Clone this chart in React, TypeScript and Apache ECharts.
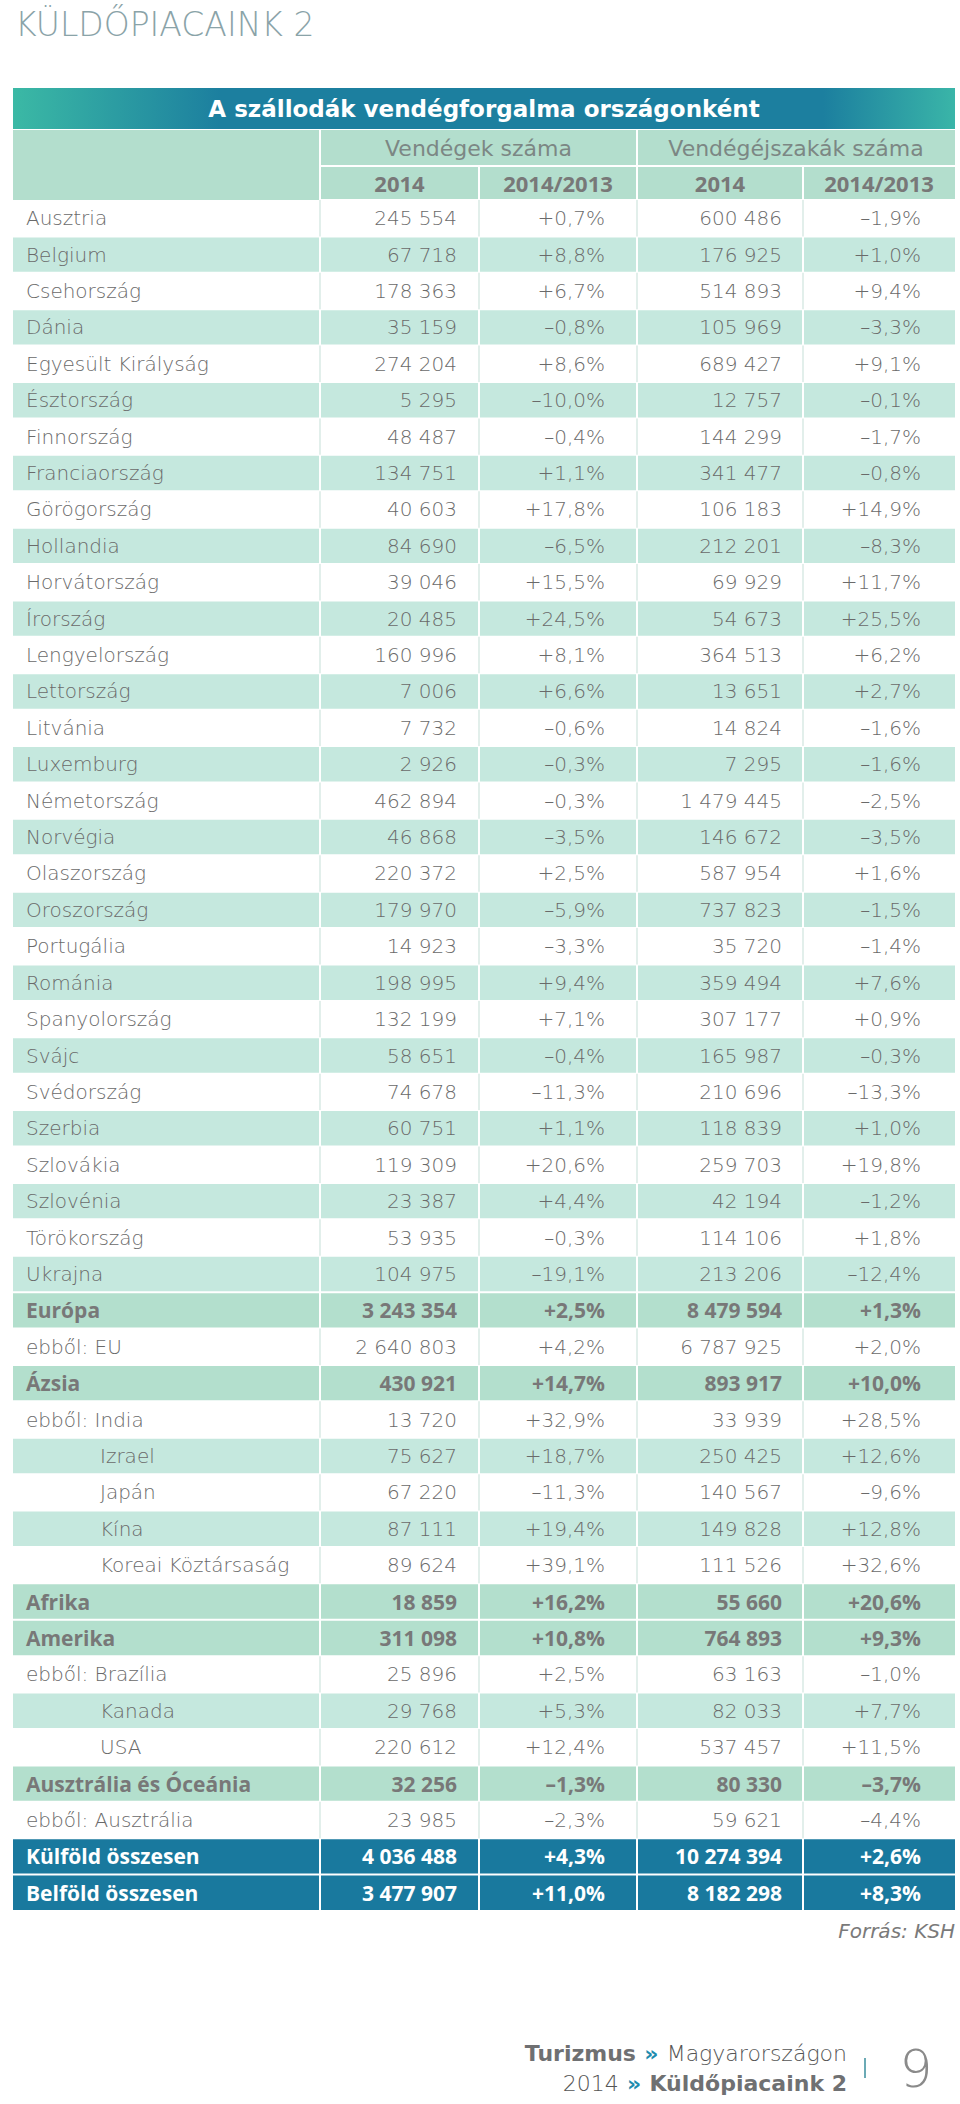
import React, { useEffect, useRef } from "react";
import * as echarts from "echarts";

// ---------- DATA ----------
const countries = [
  "Ausztria", "Belgium", "Csehország", "Dánia", "Egyesült Királyság", "Észtország",
  "Finnország", "Franciaország", "Görögország", "Hollandia", "Horvátország", "Írország",
  "Lengyelország", "Lettország", "Litvánia", "Luxemburg", "Németország", "Norvégia",
  "Olaszország", "Oroszország", "Portugália", "Románia", "Spanyolország", "Svájc",
  "Svédország", "Szerbia", "Szlovákia", "Szlovénia", "Törökország", "Ukrajna",
  "Európa", "ebből: EU", "Ázsia", "ebből: India", "Izrael", "Japán", "Kína",
  "Koreai Köztársaság", "Afrika", "Amerika", "ebből: Brazília", "Kanada", "USA",
  "Ausztrália és Óceánia", "ebből: Ausztrália", "Külföld összesen", "Belföld összesen",
];

const guests2014 = [
  245554, 67718, 178363, 35159, 274204, 5295,
  48487, 134751, 40603, 84690, 39046, 20485,
  160996, 7006, 7732, 2926, 462894, 46868,
  220372, 179970, 14923, 198995, 132199, 58651,
  74678, 60751, 119309, 23387, 53935, 104975,
  3243354, 2640803, 430921, 13720, 75627, 67220, 87111,
  89624, 18859, 311098, 25896, 29768, 220612,
  32256, 23985, 4036488, 3477907,
];

const guestsChange = [
  0.7, 8.8, 6.7, -0.8, 8.6, -10.0,
  -0.4, 1.1, 17.8, -6.5, 15.5, 24.5,
  8.1, 6.6, -0.6, -0.3, -0.3, -3.5,
  2.5, -5.9, -3.3, 9.4, 7.1, -0.4,
  -11.3, 1.1, 20.6, 4.4, -0.3, -19.1,
  2.5, 4.2, 14.7, 32.9, 18.7, -11.3, 19.4,
  39.1, 16.2, 10.8, 2.5, 5.3, 12.4,
  -1.3, -2.3, 4.3, 11.0,
];

const nights2014 = [
  600486, 176925, 514893, 105969, 689427, 12757,
  144299, 341477, 106183, 212201, 69929, 54673,
  364513, 13651, 14824, 7295, 1479445, 146672,
  587954, 737823, 35720, 359494, 307177, 165987,
  210696, 118839, 259703, 42194, 114106, 213206,
  8479594, 6787925, 893917, 33939, 250425, 140567, 149828,
  111526, 55660, 764893, 63163, 82033, 537457,
  80330, 59621, 10274394, 8182298,
];

const nightsChange = [
  -1.9, 1.0, 9.4, -3.3, 9.1, -0.1,
  -1.7, -0.8, 14.9, -8.3, 11.7, 25.5,
  6.2, 2.7, -1.6, -1.6, -2.5, -3.5,
  1.6, -1.5, -1.4, 7.6, 0.9, -0.3,
  -13.3, 1.0, 19.8, -1.2, 1.8, -12.4,
  1.3, 2.0, 10.0, 28.5, 12.6, -9.6, 12.8,
  32.6, 20.6, 9.3, -1.0, 7.7, 11.5,
  -3.7, -4.4, 2.6, 8.3,
];

const groupRows = ["Európa", "Ázsia", "Afrika", "Amerika", "Ausztrália és Óceánia"];
const totalRows = ["Külföld összesen", "Belföld összesen"];
const indentedRows = ["Izrael", "Japán", "Kína", "Koreai Köztársaság", "Kanada", "USA"];

const pageTitleParts = ["KÜLDŐPIACAIN", "K 2"];
const tableTitle = "A szállodák vendégforgalma országonként";
const groupHeaders = ["Vendégek száma", "Vendégéjszakák száma"];
const subHeaders = ["2014", "2014/2013", "2014", "2014/2013"];
const sourceText = "Forrás: KSH";

// ---------- STYLE / LAYOUT ----------
const COLS = [13, 320, 479, 637, 803, 955];
const TEXT_RIGHT = [457, 605, 782, 921];
const MINT = "#c5e8de";
const GROUP = "#b3dfcd";
const HEAD = "#b3decd";
const BLUE = "#19799e";
const TXT = "#6a6a6a";
const TXT_BOLD = "#787878";
const LIGHT_FONT = "'DejaVu Sans', Lato, sans-serif";
const BOLD_FONT = "'Open Sans', 'DejaVu Sans', sans-serif";

const fmtInt = (n: number) => String(n).replace(/\B(?=(\d{3})+(?!\d))/g, " ");
const fmtPct = (v: number) =>
  (v < 0 ? "–" : "+") + Math.abs(v).toFixed(1).replace(".", ",") + "%";

const kinds = countries.map((c) =>
  totalRows.includes(c) ? "t" : groupRows.includes(c) ? "g" : "n"
);
const stripe: boolean[] = [];
{
  let k = 0;
  kinds.forEach((kd) => {
    if (kd === "n") {
      stripe.push(k % 2 === 1);
      k++;
    } else {
      stripe.push(false);
      k = 0;
    }
  });
}

function cellRect(j: number, y: number, h: number, fill: any) {
  const x0 = COLS[j] + (j > 0 ? 1 : 0);
  const x1 = COLS[j + 1] - (j < COLS.length - 2 ? 1 : 0);
  return { type: "rect", shape: { x: x0, y, width: x1 - x0, height: h }, style: { fill } };
}

function renderItem(params: any, api: any) {
  const i = params.dataIndex;
  const c = api.coord([0.5, i]);
  const h = api.size([0, 1])[1];
  const top = c[1] - h / 2;
  const yc = c[1];
  const kind = kinds[i];
  const children: any[] = [];
  let bg: string | null = null;
  if (kind === "t") bg = BLUE;
  else if (kind === "g") bg = GROUP;
  else if (stripe[i]) bg = MINT;
  if (bg) {
    for (let j = 0; j < 5; j++) children.push(cellRect(j, top + 1, h - 2, bg));
  } else {
    for (let j = 1; j < 5; j++)
      children.push({
        type: "line",
        shape: { x1: COLS[j], y1: top, x2: COLS[j], y2: top + h },
        style: { stroke: "#d9eae5", lineWidth: 1.5 },
      });
  }
  const bold = kind !== "n";
  const fill = kind === "t" ? "#ffffff" : bold ? TXT_BOLD : TXT;
  const font = bold ? BOLD_FONT : LIGHT_FONT;
  const fontWeight = bold ? "bold" : 300;
  const fontSize = bold ? 21 : 20;
  const name = countries[i];
  children.push({
    type: "text",
    style: {
      text: name,
      x: indentedRows.includes(name) ? 100 : 26,
      y: yc,
      textAlign: "left",
      textVerticalAlign: "middle",
      fontFamily: font,
      fontWeight,
      fontSize,
      fill,
    },
  });
  const vals = [
    fmtInt(guests2014[i]),
    fmtPct(guestsChange[i]),
    fmtInt(nights2014[i]),
    fmtPct(nightsChange[i]),
  ];
  vals.forEach((v, j) => {
    children.push({
      type: "text",
      style: {
        text: v,
        x: TEXT_RIGHT[j],
        y: yc,
        textAlign: "right",
        textVerticalAlign: "middle",
        fontFamily: font,
        fontWeight,
        fontSize,
        fill,
      },
    });
  });
  return { type: "group", children };
}

export default function App() {
  const ref = useRef<HTMLDivElement>(null);
  useEffect(() => {
    if (!ref.current) return;
    const chart = echarts.init(ref.current, null, { renderer: "svg" });

    const headerCells: any[] = [];
    headerCells.push(cellRect(0, 130, 70, HEAD));
    [
      [1, 3],
      [3, 5],
    ].forEach(([a, b], k) => {
      const x0 = COLS[a] + 1;
      const x1 = COLS[b] - (b < 5 ? 1 : 0);
      headerCells.push({
        type: "rect",
        shape: { x: x0, y: 130, width: x1 - x0, height: 35 },
        style: { fill: HEAD },
      });
      headerCells.push({
        type: "text",
        x: (COLS[a] + COLS[b]) / 2,
        y: 148,
        style: {
          text: groupHeaders[k],
          textAlign: "center",
          textVerticalAlign: "middle",
          fontFamily: "'DejaVu Sans', sans-serif",
          fontSize: 22,
          fill: "#7c8784",
        },
      });
    });
    subHeaders.forEach((s, k) => {
      headerCells.push(cellRect(k + 1, 167, 32, HEAD));
      headerCells.push({
        type: "text",
        x: (COLS[k + 1] + COLS[k + 2]) / 2,
        y: 183,
        style: {
          text: s,
          textAlign: "center",
          textVerticalAlign: "middle",
          fontFamily: BOLD_FONT,
          fontWeight: "bold",
          fontSize: 22,
          fill: TXT_BOLD,
        },
      });
    });

    const richBase = { fontSize: 22, lineHeight: 30 };
    const titleStyle = { fontFamily: LIGHT_FONT, fontWeight: 300, fontSize: 33, fill: "#8aa3a8" };
    chart.setOption({
      animation: false,
      backgroundColor: "#ffffff",
      grid: { left: 13, right: 5, top: 200, height: 1711 },
      xAxis: { type: "value", min: 0, max: 1, show: false },
      yAxis: { type: "category", data: countries, inverse: true, show: false },
      graphic: [
        {
          type: "text",
          x: 15,
          y: 24,
          style: {
            text: pageTitleParts.map((p) => `{t|${p}}`).join(""),
            textAlign: "left",
            textVerticalAlign: "middle",
            rich: { t: titleStyle },
            ...titleStyle,
          },
        },
        {
          type: "rect",
          shape: { x: 13, y: 88, width: 942, height: 41 },
          style: {
            fill: new echarts.graphic.LinearGradient(0, 0, 1, 0, [
              { offset: 0, color: "#3bb9a5" },
              { offset: 0.22, color: "#1c7f9f" },
              { offset: 0.86, color: "#1c7f9f" },
              { offset: 1, color: "#3ab5a8" },
            ]),
          },
        },
        {
          type: "text",
          x: 484,
          y: 109,
          style: {
            text: tableTitle,
            textAlign: "center",
            textVerticalAlign: "middle",
            fontFamily: "'DejaVu Sans', sans-serif",
            fontWeight: "bold",
            fontSize: 23,
            fill: "#ffffff",
          },
        },
        ...headerCells,
        {
          type: "text",
          x: 955,
          y: 1931,
          style: {
            text: sourceText,
            textAlign: "right",
            textVerticalAlign: "middle",
            fontFamily: LIGHT_FONT,
            fontStyle: "italic",
            fontWeight: 300,
            fontSize: 20,
            fill: "#7a7a7a",
          },
        },
        {
          type: "text",
          x: 847,
          y: 2068,
          style: {
            text: "{b|Turizmus}{s| }{a|»}{s| }{l|Magyarországon}\n{l|2014}{s| }{a|»}{s| }{b|Küldőpiacaink 2}",
            textAlign: "right",
            textVerticalAlign: "middle",
            rich: {
              b: { ...richBase, fontFamily: "'DejaVu Sans', sans-serif", fontWeight: "bold", fill: "#6f7072" },
              a: { ...richBase, fontFamily: "'DejaVu Sans', sans-serif", fontWeight: "bold", fill: "#1e8cae" },
              l: { ...richBase, fontFamily: LIGHT_FONT, fontWeight: 300, fill: "#555555" },
              s: { ...richBase, fontFamily: "'DejaVu Sans', sans-serif", fontSize: 26 },
            },
          },
        },
        {
          type: "line",
          shape: { x1: 865, y1: 2058, x2: 865, y2: 2078 },
          style: { stroke: "#3a8e9c", lineWidth: 1.5 },
        },
        {
          type: "text",
          x: 916,
          y: 2069,
          style: {
            text: "9",
            textAlign: "center",
            textVerticalAlign: "middle",
            fontFamily: LIGHT_FONT,
            fontWeight: 300,
            fontSize: 52,
            fill: "#8a8a8a",
          },
        },
      ],
      series: [
        {
          type: "custom",
          coordinateSystem: "cartesian2d",
          clip: false,
          silent: true,
          data: countries.map((_, i) => [0.5, i]),
          encode: { x: 0, y: 1 },
          renderItem,
        },
      ],
    });
    return () => chart.dispose();
  }, []);
  return (
    <div
      ref={ref}
      style={{ position: "absolute", left: 0, top: 0, width: 960, height: 2104, background: "#fff" }}
    />
  );
}
